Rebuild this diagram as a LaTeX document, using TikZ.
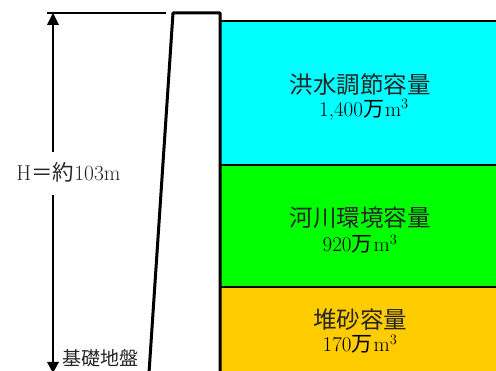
\documentclass[tikz,border=0pt]{standalone}
\usepackage{fontspec}
\newfontfamily\cjk{Noto Sans CJK JP}
\definecolor{zoneA}{RGB}{0,255,255}
\definecolor{zoneB}{RGB}{0,255,0}
\definecolor{zoneC}{RGB}{255,204,0}
\tikzset{
  x=1pt,y=-1pt,
  zone/.style={draw=black,line width=1.5pt},
  wall/.style={draw=black,line width=3pt,line join=round},
  dimline/.style={draw=black,line width=1.7pt},
  tipend/.style={draw=none,fill=black},
  big/.style={font=\cjk\fontsize{23.5}{26}\selectfont,text=black!85,inner sep=0pt},
  vol/.style={font=\fontsize{21}{24}\selectfont,text=black,inner sep=0pt},
  dimtext/.style={font=\fontsize{21.5}{24}\selectfont,text=black!85,inner sep=0pt},
}
\begin{document}
\begin{tikzpicture}
\useasboundingbox (0,0) rectangle (496,371);
\begin{scope}
\clip (0,0) rectangle (496,371);
\fill[white] (0,0) rectangle (496,371);
\fill[zoneA] (220,21) rectangle (497,165);
\fill[zoneB] (220,165) rectangle (497,287);
\fill[zoneC] (220,287) rectangle (497,372);
\draw[zone] (220,21) -- (497,21);
\draw[zone] (220,165) -- (497,165);
\draw[zone] (220,287) -- (497,287);
\coordinate (wallA) at (149,373);
\coordinate (wallB) at (173,13);
\coordinate (wallC) at (220,13);
\coordinate (wallD) at (220,373);
\draw[wall] (wallA) -- (wallB) -- (wallC) -- (wallD);
\coordinate (topL) at (47,13);
\coordinate (topR) at (166,13);
\draw[dimline] (topL) -- (topR);
\node[dimtext,anchor=center] (hlabel) at (68.5,172) {H{\cjk＝約}103m};
\coordinate (upTip) at (53,13);
\coordinate (downTip) at (53,373);
\draw[dimline] (53,152) -- (53,22);
\draw[dimline] (53,195) -- (53,364);
\fill[tipend] (upTip) -- (59,25) -- (47,25) -- cycle;
\fill[tipend] (downTip) -- (59,362) -- (47,362) -- cycle;
\node[inner sep=0pt,font=\cjk\fontsize{19}{22}\selectfont,text=black!85] (base) at (101,358) {基礎地盤};
\node[big] (t1) at (360,85) {洪水調節容量};
\node[vol] (v1) at (364,110) {1,400{\cjk 万}\kern1pt m$^3$};
\node[big] (t2) at (360,218) {河川環境容量};
\node[vol] (v2) at (360,244) {920{\cjk 万}\kern1pt m$^3$};
\node[big] (t3) at (360,320) {堆砂容量};
\node[vol] (v3) at (360,344) {170{\cjk 万}\kern1pt m$^3$};
\end{scope}
\end{tikzpicture}
\end{document}
